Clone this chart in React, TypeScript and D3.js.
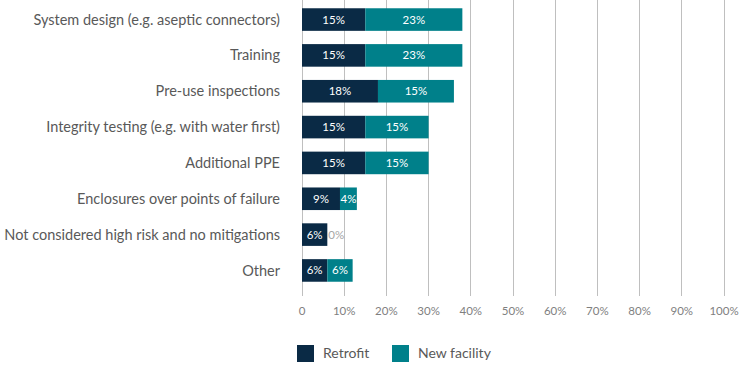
import React, { useEffect, useRef } from 'react'
import * as d3 from 'd3'

const categories = [
  'System design (e.g. aseptic connectors)',
  'Training',
  'Pre-use inspections',
  'Integrity testing (e.g. with water first)',
  'Additional PPE',
  'Enclosures over points of failure',
  'Not considered high risk and no mitigations',
  'Other',
]
const retrofit = [15, 15, 18, 15, 15, 9, 6, 6]
const newFacility = [23, 23, 18, 15, 15, 4, 0, 6]
// labels as printed on the bars (the pre-use label does not match its bar length)
const retrofitLabels = ['15%', '15%', '18%', '15%', '15%', '9%', '6%', '6%']
const newFacilityLabels = ['23%', '23%', '15%', '15%', '15%', '4%', '0%', '6%']
const ticks = [0, 10, 20, 30, 40, 50, 60, 70, 80, 90, 100]
const seriesNames = ['Retrofit', 'New facility']
const colors = ['#0a2a45', '#00808a']

const W = 743
const H = 365
const FONT = 'Lato, "Open Sans", sans-serif'

const x = d3.scaleLinear().domain([0, 100]).range([302, 724])
const y = d3.scaleBand().domain(categories).range([-5, 295]).padding(0.37)

const App = () => {
  const ref = useRef<SVGSVGElement>(null)

  useEffect(() => {
    const svg = d3.select(ref.current)
    svg.selectAll('*').remove()

    // gridlines
    svg
      .append('g')
      .selectAll('line')
      .data(ticks)
      .join('line')
      .attr('x1', (d) => x(d))
      .attr('x2', (d) => x(d))
      .attr('y1', 0)
      .attr('y2', 296)
      .attr('stroke', '#bfbfbf')
      .attr('stroke-width', 1)
      .attr('shape-rendering', 'crispEdges')

    // tick labels
    svg
      .append('g')
      .selectAll('text')
      .data(ticks)
      .join('text')
      .attr('x', (d) => x(d))
      .attr('y', 315)
      .attr('text-anchor', 'middle')
      .attr('font-family', FONT)
      .attr('font-size', 11.5)
      .attr('fill', '#7f7f7f')
      .text((d) => (d === 0 ? '0' : d + '%'))

    // category labels
    svg
      .append('g')
      .selectAll('text')
      .data(categories)
      .join('text')
      .attr('x', 280)
      .attr('y', (d) => y(d)! + y.bandwidth() / 2)
      .attr('dy', '0.35em')
      .attr('text-anchor', 'end')
      .attr('font-family', FONT)
      .attr('font-size', 14.5)
      .attr('fill', '#595959')
      .text((d) => d)

    const rows = svg
      .append('g')
      .selectAll('g')
      .data(categories)
      .join('g')
      .attr('transform', (d) => `translate(0,${y(d)})`)

    rows
      .append('rect')
      .attr('x', x(0))
      .attr('width', (d, i) => x(retrofit[i]) - x(0))
      .attr('height', y.bandwidth())
      .attr('fill', colors[0])

    rows
      .append('rect')
      .attr('x', (d, i) => x(retrofit[i]))
      .attr('width', (d, i) => x(retrofit[i] + newFacility[i]) - x(retrofit[i]))
      .attr('height', y.bandwidth())
      .attr('fill', colors[1])

    rows
      .append('text')
      .attr('x', (d, i) => (x(0) + x(retrofit[i])) / 2)
      .attr('y', y.bandwidth() / 2)
      .attr('dy', '0.35em')
      .attr('text-anchor', 'middle')
      .attr('font-family', FONT)
      .attr('font-size', 11.5)
      .attr('fill', '#fff')
      .text((d, i) => retrofitLabels[i])

    rows
      .append('text')
      .attr('x', (d, i) =>
        newFacility[i] === 0 ? x(retrofit[i]) + 1 : (x(retrofit[i]) + x(retrofit[i] + newFacility[i])) / 2
      )
      .attr('y', y.bandwidth() / 2)
      .attr('dy', '0.35em')
      .attr('text-anchor', (d, i) => (newFacility[i] === 0 ? 'start' : 'middle'))
      .attr('font-family', FONT)
      .attr('font-size', 11.5)
      .attr('fill', (d, i) => (newFacility[i] === 0 ? '#a6a6a6' : '#fff'))
      .text((d, i) => newFacilityLabels[i])

    // legend
    const legendX = [297, 392]
    const legend = svg
      .append('g')
      .selectAll('g')
      .data(seriesNames)
      .join('g')
      .attr('transform', (d, i) => `translate(${legendX[i]},345)`)

    legend
      .append('rect')
      .attr('width', 17)
      .attr('height', 17)
      .attr('fill', (d, i) => colors[i])

    legend
      .append('text')
      .attr('x', 26)
      .attr('y', 8.5)
      .attr('dy', '0.35em')
      .attr('font-family', FONT)
      .attr('font-size', 14)
      .attr('fill', '#595959')
      .text((d) => d)
  }, [])

  return (
    <svg
      ref={ref}
      width={W}
      height={H}
      style={{ position: 'absolute', left: 0, top: 0, background: '#fff' }}
    />
  )
}

export default App
